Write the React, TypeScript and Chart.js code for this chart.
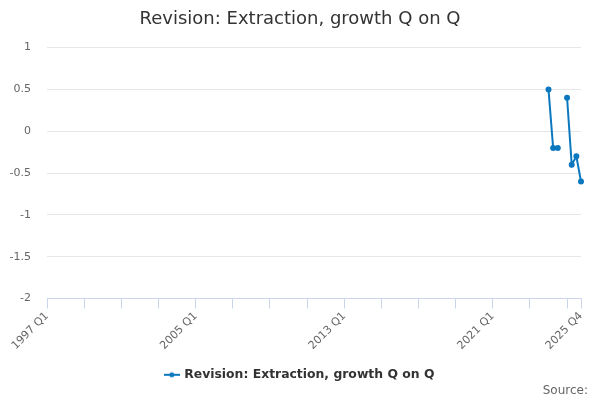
import React, { useEffect, useRef } from "react";
import { Chart, registerables } from "chart.js";

Chart.register(...registerables);

const startYear = 1997;
const endYear = 2025;
const quarters: string[] = [];
for (let y = startYear; y <= endYear; y++) {
  for (let q = 1; q <= 4; q++) quarters.push(`${y} Q${q}`);
}

const labelledTicks = ["1997 Q1", "2005 Q1", "2013 Q1", "2021 Q1", "2025 Q4"];

// Revision values by quarter (only the latest quarters have revisions)
const revisionPoints: Record<string, number | null> = {
  "2024 Q1": 0.5,
  "2024 Q2": -0.2,
  "2024 Q3": -0.2,
  "2024 Q4": null,
  "2025 Q1": 0.4,
  "2025 Q2": -0.4,
  "2025 Q3": -0.3,
  "2025 Q4": -0.6,
};

const seriesName = "Revision: Extraction, growth Q on Q";
const titleText = "Revision: Extraction, growth Q on Q";
const sourceText = "Source:";
const yTicks = [-2, -1.5, -1, -0.5, 0, 0.5, 1];

const LINE_COLOR = "#0b78bf";
const FONT = "'DejaVu Sans', Verdana, sans-serif";

function legendIcon(): HTMLCanvasElement {
  const c = document.createElement("canvas");
  c.width = 16;
  c.height = 8;
  const ctx = c.getContext("2d")!;
  ctx.strokeStyle = LINE_COLOR;
  ctx.lineWidth = 2;
  ctx.beginPath();
  ctx.moveTo(0, 4);
  ctx.lineTo(16, 4);
  ctx.stroke();
  ctx.fillStyle = LINE_COLOR;
  ctx.beginPath();
  ctx.arc(8, 4, 2.5, 0, Math.PI * 2);
  ctx.fill();
  return c;
}

const sourcePlugin = {
  id: "sourceText",
  afterDraw(chart: any) {
    const ctx = chart.ctx;
    ctx.save();
    ctx.font = `normal 12px ${FONT}`;
    ctx.fillStyle = "#666666";
    ctx.textAlign = "right";
    ctx.textBaseline = "middle";
    ctx.fillText(sourceText, chart.width - 12, chart.height - 9);
    ctx.restore();
  },
};

export default function App() {
  const ref = useRef<HTMLCanvasElement>(null);

  useEffect(() => {
    document.body.style.margin = "0";
    const values = quarters.map((q) =>
      q in revisionPoints ? revisionPoints[q] : null
    );
    const icon = legendIcon();
    const chart = new Chart(ref.current!, {
      type: "line",
      data: {
        labels: quarters,
        datasets: [
          {
            label: seriesName,
            data: values,
            borderColor: LINE_COLOR,
            backgroundColor: LINE_COLOR,
            borderWidth: 2,
            pointRadius: 2,
            pointHoverRadius: 3,
            spanGaps: false,
            tension: 0,
          },
        ],
      },
      plugins: [sourcePlugin],
      options: {
        animation: false,
        responsive: false,
        maintainAspectRatio: false,
        layout: { padding: { left: 0, right: 0, top: 9, bottom: 9 } },
        plugins: {
          title: {
            display: true,
            text: titleText,
            color: "#333333",
            font: { family: FONT, size: 18, weight: "normal" },
            padding: { top: 0, bottom: 17 },
          },
          legend: {
            position: "bottom",
            labels: {
              usePointStyle: true,
              color: "#333333",
              font: { family: FONT, size: 12.4, weight: "bold" },
              padding: 6,
              generateLabels: (ch: any) =>
                ch.data.datasets.map((ds: any, i: number) => ({
                  text: ds.label,
                  pointStyle: icon,
                  fontColor: "#333333",
                  strokeStyle: LINE_COLOR,
                  fillStyle: LINE_COLOR,
                  lineWidth: 0,
                  datasetIndex: i,
                  hidden: false,
                })),
            },
          },
          tooltip: { enabled: false },
        },
        scales: {
          x: {
            type: "category",
            offset: false,
            border: { display: true, color: "#ccd6eb", width: 1 },
            grid: {
              drawOnChartArea: false,
              drawTicks: true,
              tickLength: 10,
              color: (ctx: any) => {
                const i = ctx.index;
                return i % 8 === 0 || i === quarters.length - 1
                  ? "#ccd6eb"
                  : "rgba(0,0,0,0)";
              },
            },
            ticks: {
              autoSkip: false,
              maxRotation: 45,
              minRotation: 45,
              color: "#666666",
              font: { family: FONT, size: 11 },
              padding: 1,
              callback: (_v: any, i: number) =>
                labelledTicks.includes(quarters[i]) ? quarters[i] : "",
            },
            afterFit: (scale: any) => {
              scale.height = 64;
            },
          },
          y: {
            type: "linear",
            position: "left",
            min: -2,
            max: 1,
            afterBuildTicks: (scale: any) => {
              scale.ticks = yTicks.map((v) => ({ value: v }));
            },
            border: { display: false },
            grid: {
              color: "#e6e6e6",
              drawTicks: false,
            },
            ticks: {
              color: "#666666",
              font: { family: FONT, size: 11 },
              padding: 16,
              callback: (v: any) => String(v),
            },
            afterFit: (scale: any) => {
              scale.width = 47;
            },
          },
          spacer: {
            type: "linear",
            position: "right",
            display: true,
            min: 0,
            max: 1,
            border: { display: false },
            grid: { display: false, drawTicks: false },
            ticks: { display: false },
            afterFit: (scale: any) => {
              scale.width = 19;
            },
          },
        },
      },
    });
    return () => chart.destroy();
  }, []);

  return (
    <div style={{ position: "absolute", left: 0, top: 0, width: 600, height: 400 }}>
      <canvas ref={ref} width={600} height={400} style={{ width: 600, height: 400 }} />
    </div>
  );
}
